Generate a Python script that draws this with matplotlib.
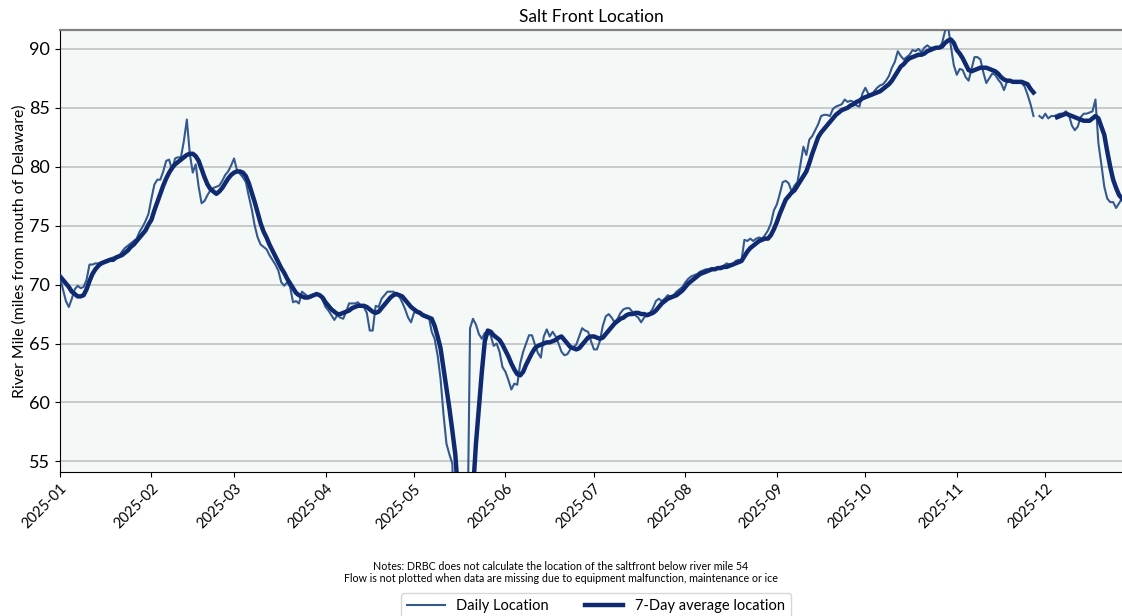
import numpy as np
import pandas as pd
import matplotlib
matplotlib.use("Agg")
import matplotlib.pyplot as plt
import matplotlib.dates as mdates

plt.rcParams['font.family'] = ['Lato', 'DejaVu Sans']

nan = np.nan

# daily salt front location (river mile), Jan 1 - Dec 27 2025
daily_jan = [70.6, 69.6, 68.6, 68.1, 68.8, 69.6, 69.9, 69.7, 69.8, 70.4,
             71.7, 71.7, 71.8, 71.8, 71.9, 72.0, 72.1, 72.2, 72.3, 72.3,
             72.4, 72.8, 73.1, 73.3, 73.5, 73.7, 73.9, 74.5, 74.9, 75.4, 76.0]
daily_feb = [77.3, 78.5, 78.9, 78.9, 79.6, 80.5, 80.6, 79.7, 80.7, 80.8,
             80.8, 82.2, 84.0, 81.1, 79.5, 80.2, 78.3, 76.9, 77.1, 77.6,
             78.0, 78.2, 78.3, 78.4, 78.8, 79.3, 79.6, 80.1]
daily_mar = [80.7, 79.7, 79.4, 79.1, 78.7, 77.5, 76.4, 75.0, 74.0, 73.4,
             73.2, 73.0, 72.5, 72.1, 71.7, 71.2, 70.2, 69.9, 70.2, 69.8,
             68.5, 68.6, 68.4, 69.4, 69.2, 69.0, 68.9, 69.1, 69.2, 69.2, 68.7]
daily_apr = [68.1, 67.8, 67.4, 67.0, 67.4, 67.2, 67.1, 67.7, 68.4, 68.4,
             68.4, 68.5, 68.2, 68.1, 67.6, 66.1, 66.1, 68.2, 68.1, 68.8,
             69.1, 69.4, 69.4, 69.4, 69.2, 69.0, 68.5, 67.9, 67.2, 66.8]
daily_may = [67.6, 67.8, 67.7, 67.5, 67.4, 67.3, 66.0, 65.4, 64.0, 62.0,
             59.0, 56.5, 55.6, 54.8, 45.0, 42.0, 41.0, 42.0, 46.0, 66.3,
             67.1, 66.6, 65.8, 65.4, 65.9, 65.9, 65.7, 64.8, 65.0, 64.3, 63.0]
daily_jun = [62.6, 61.9, 61.1, 61.6, 61.5, 63.3, 64.3, 65.0, 65.7, 65.7,
             64.9, 64.2, 63.8, 65.6, 66.2, 65.6, 66.0, 65.6, 65.0, 64.3,
             64.0, 64.1, 64.5, 64.7, 64.9, 65.6, 66.3, 66.1, 66.0, 65.2]
daily_jul = [64.5, 64.5, 65.2, 66.5, 67.3, 67.5, 67.2, 66.8, 67.1, 67.6,
             67.9, 68.0, 68.0, 67.7, 67.4, 67.2, 66.8, 67.2, 67.5, 67.6,
             68.0, 68.6, 68.8, 68.6, 68.8, 69.1, 69.0, 69.1, 69.4, 69.6, 69.8]
daily_aug = [70.2, 70.5, 70.7, 70.8, 70.9, 71.1, 71.2, 71.3, 71.3, 71.4,
             71.4, 71.4, 71.5, 71.6, 71.8, 71.7, 71.6, 72.0, 72.1, 72.0,
             73.8, 73.7, 73.9, 73.7, 73.9, 74.0, 73.9, 74.2, 74.6, 75.2, 76.3]
daily_sep = [76.8, 77.7, 78.7, 78.8, 78.6, 77.9, 78.4, 78.7, 80.2, 81.7,
             81.0, 82.3, 82.6, 83.1, 83.6, 84.3, 84.4, 84.4, 84.3, 84.9,
             85.1, 85.2, 85.3, 85.7, 85.5, 85.6, 85.5, 85.2, 85.1, 86.2]
daily_oct = [86.7, 86.2, 86.0, 86.4, 86.7, 86.9, 87.0, 87.3, 87.7, 88.4,
             88.9, 89.8, 89.4, 89.1, 89.3, 89.5, 89.9, 89.8, 90.0, 89.7,
             90.1, 90.3, 90.1, 90.1, 90.1, 90.1, 90.5, 91.5, 92.0, 90.2, 88.6]
daily_nov = [87.8, 88.3, 88.2, 87.6, 87.3, 88.3, 89.3, 89.3, 89.1, 88.0,
             87.1, 87.5, 87.9, 87.8, 87.4, 87.1, 86.5, 87.2, 87.3, 87.2,
             87.2, 87.2, 87.1, 86.8, 86.1, 85.3, 84.3, nan, 84.3, 84.1]
daily_dec = [84.5, 84.1, 84.3, 84.3, 84.4, 84.5, 84.5, 84.7, 84.4, 83.5,
             83.1, 83.4, 84.2, 84.5, 84.5, 84.6, 84.7, 85.7, 82.0, 80.2,
             78.3, 77.3, 77.0, 77.0, 76.5, 76.9, 77.3]

# 7-day average location
avg_jan = [70.7, 70.4, 70.1, 69.8, 69.4, 69.2, 69.0, 69.0, 69.1, 69.6,
           70.3, 70.9, 71.3, 71.6, 71.8, 71.9, 72.0, 72.1, 72.1, 72.3,
           72.4, 72.5, 72.7, 72.9, 73.2, 73.4, 73.7, 74.0, 74.3, 74.6, 75.1]
avg_feb = [75.5, 76.3, 77.0, 77.7, 78.4, 79.0, 79.5, 79.9, 80.2, 80.4,
           80.6, 80.8, 81.0, 81.1, 81.1, 80.9, 80.5, 79.8, 79.1, 78.5,
           78.1, 77.9, 77.7, 77.9, 78.2, 78.6, 79.0, 79.3]
avg_mar = [79.5, 79.6, 79.6, 79.5, 79.2, 78.6, 77.8, 77.0, 76.1, 75.2,
           74.5, 74.0, 73.4, 72.9, 72.4, 71.9, 71.4, 71.0, 70.5, 70.1,
           69.7, 69.3, 69.1, 69.0, 68.9, 68.9, 69.0, 69.1, 69.2, 69.1, 68.9]
avg_apr = [68.5, 68.2, 67.9, 67.7, 67.5, 67.5, 67.6, 67.7, 67.8, 68.0,
           68.1, 68.2, 68.2, 68.2, 68.1, 67.9, 67.7, 67.6, 67.7, 68.0,
           68.3, 68.6, 68.9, 69.1, 69.2, 69.1, 69.0, 68.7, 68.4, 68.1]
avg_may = [67.9, 67.7, 67.6, 67.4, 67.3, 67.2, 67.1, 66.5, 65.6, 64.6,
           62.9, 61.2, 59.5, 57.6, 55.6, 52.0, 49.5, 47.5, 47.0, 48.5,
           52.5, 56.5, 59.5, 62.6, 65.2, 66.1, 66.0, 65.7, 65.5, 65.3, 64.9]
avg_jun = [64.4, 63.9, 63.3, 62.8, 62.4, 62.3, 62.6, 63.2, 63.7, 64.2,
           64.6, 64.8, 64.9, 65.0, 65.1, 65.1, 65.2, 65.3, 65.5, 65.6,
           65.3, 65.0, 64.7, 64.6, 64.5, 64.6, 64.9, 65.2, 65.5, 65.6]
avg_jul = [65.6, 65.5, 65.4, 65.5, 65.8, 66.1, 66.4, 66.7, 66.9, 67.1,
           67.2, 67.4, 67.5, 67.5, 67.6, 67.6, 67.5, 67.5, 67.4, 67.5,
           67.6, 67.8, 68.1, 68.4, 68.6, 68.8, 68.9, 69.0, 69.1, 69.3, 69.5]
avg_aug = [69.8, 70.1, 70.3, 70.5, 70.7, 70.9, 71.0, 71.1, 71.2, 71.3,
           71.3, 71.4, 71.4, 71.5, 71.5, 71.6, 71.7, 71.8, 71.9, 72.0,
           72.4, 72.8, 73.1, 73.3, 73.5, 73.7, 73.8, 73.9, 73.9, 74.2, 74.7]
avg_sep = [75.3, 76.0, 76.6, 77.2, 77.5, 77.8, 78.0, 78.4, 78.8, 79.2,
           79.6, 80.3, 81.1, 81.8, 82.5, 82.9, 83.2, 83.5, 83.8, 84.1,
           84.4, 84.6, 84.8, 84.9, 85.0, 85.2, 85.3, 85.5, 85.6, 85.8]
avg_oct = [85.9, 86.0, 86.1, 86.2, 86.3, 86.4, 86.6, 86.8, 87.0, 87.3,
           87.7, 88.1, 88.5, 88.7, 89.0, 89.2, 89.3, 89.4, 89.5, 89.5,
           89.6, 89.8, 89.9, 90.0, 90.1, 90.1, 90.2, 90.5, 90.7, 90.8, 90.5]
avg_nov = [89.9, 89.6, 89.2, 88.7, 88.2, 88.1, 88.2, 88.3, 88.4, 88.4,
           88.4, 88.3, 88.2, 88.1, 87.9, 87.6, 87.4, 87.3, 87.3, 87.2,
           87.2, 87.2, 87.2, 87.1, 87.0, 86.6, 86.3, nan, nan, nan]
avg_dec = [nan, nan, nan, nan, 84.2, 84.3, 84.4, 84.5, 84.4, 84.3,
           84.2, 84.1, 84.0, 83.9, 83.9, 83.9, 84.1, 84.3, 84.1, 83.4,
           82.7, 81.3, 80.0, 78.9, 78.2, 77.6, 77.3]

daily = (daily_jan + daily_feb + daily_mar + daily_apr + daily_may + daily_jun
         + daily_jul + daily_aug + daily_sep + daily_oct + daily_nov + daily_dec)
avg7 = (avg_jan + avg_feb + avg_mar + avg_apr + avg_may + avg_jun
        + avg_jul + avg_aug + avg_sep + avg_oct + avg_nov + avg_dec)
dates = pd.date_range("2025-01-01", periods=len(daily), freq="D")

fig = plt.figure(figsize=(11.22, 6.16), dpi=100)
ax = fig.add_axes([60/1122, 1 - 472/616, 1 - 60/1122, (472 - 30)/616])
ax.set_facecolor("#f4f8f7")

ax.plot(dates, daily, color="#34598c", lw=1.5, label="Daily Location", zorder=3)
ax.plot(dates, avg7, color="#0f2a70", lw=3.2, label="7-Day average location", zorder=4)

ax.set_xlim(dates[0], dates[-1])
ax.set_ylim(54.1, 91.6)
ax.set_yticks([55, 60, 65, 70, 75, 80, 85, 90])
ax.grid(axis="y", color="#bdbdbd", lw=1.1)
ax.set_axisbelow(True)

ax.xaxis.set_major_locator(mdates.MonthLocator())
ax.xaxis.set_major_formatter(mdates.DateFormatter("%Y-%m"))
plt.setp(ax.get_xticklabels(), rotation=45, ha="right", rotation_mode="anchor")
ax.tick_params(axis="y", labelsize=13)
ax.tick_params(axis="x", labelsize=10.5)

ax.spines["right"].set_visible(False)
ax.spines["top"].set_color("#808080")
ax.spines["top"].set_linewidth(1.6)

ax.set_title("Salt Front Location", fontsize=12.5, pad=6)
ax.set_ylabel("River Mile (miles from mouth of Delaware)", fontsize=11.3, labelpad=2)

fig.text(0.5, 1 - 567/616, "Notes: DRBC does not calculate the location of the saltfront below river mile 54",
         ha="center", va="center", fontsize=7.7)
fig.text(0.5, 1 - 579/616, "Flow is not plotted when data are missing due to equipment malfunction, maintenance or ice",
         ha="center", va="center", fontsize=7.7)

fig.legend(loc="upper center", bbox_to_anchor=(0.531, 1 - 586/616), ncol=2,
           fontsize=10.5, handlelength=2.6, columnspacing=2.5, frameon=True,
           edgecolor="#cccccc", fancybox=True)

fig.savefig("out.png", dpi=100)
